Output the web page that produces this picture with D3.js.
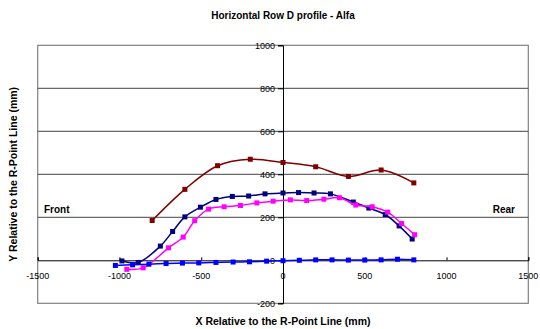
<!DOCTYPE html>
<html>
<head>
<meta charset="utf-8">
<script src="https://cdn.jsdelivr.net/npm/d3@7"></script>
<style>
  body { margin: 0; background: #fff; }
  svg { font-family: "Liberation Sans", Arial, sans-serif; }
</style>
</head>
<body>
<svg id="chart" width="540" height="329"></svg>
<script>
// ------------ DATA -----------------

const xTicks = [-1500, -1000, -500, 0, 500, 1000, 1500];
const yTicks = [-200, 0, 200, 400, 600, 800, 1000];

const redX = [-800, -600, -400, -200, 0, 200, 400, 600, 800];
const redY = [185, 330, 440, 470, 455, 435, 390, 420, 360];

const navyX = [-985, -885, -750, -675, -600, -505, -410, -310, -210, -110, 0, 95, 190, 290, 430, 525, 625, 710, 790];
const navyY = [-3, -10, 66, 134, 202, 247, 283, 297, 299, 309, 313, 315, 313, 309, 271, 243, 213, 160, 99];

const pinkX = [-955, -855, -700, -610, -540, -455, -360, -260, -160, -60, 45, 145, 250, 345, 445, 545, 640, 725, 805];
const pinkY = [-42, -35, 58, 108, 184, 238, 249, 255, 267, 275, 281, 278, 284, 291, 257, 249, 224, 171, 119];

const blueX = [-1025, -920, -820, -715, -615, -515, -410, -305, -205, -100, 0, 100, 200, 300, 400, 500, 600, 700, 800];
const blueY = [-24, -21, -18, -15, -13, -12, -10, -8, -7, -4, -2, 0, 2, 2, 1, 1, 2, 5, 2];

const series = [
  { name: "navy", xs: navyX, ys: navyY, color: "#000080" },
  { name: "pink", xs: pinkX, ys: pinkY, color: "#ff00ff" },
  { name: "blue", xs: blueX, ys: blueY, color: "#0000ff" },
  { name: "red",  xs: redX,  ys: redY,  color: "#800000" },
];

// ------------ SCALES -----------------

const plot = { left: 37.7, right: 528.3, top: 45.3, bottom: 303.3 };

const x = d3.scaleLinear().domain([-1500, 1500]).range([plot.left, plot.right]);
const y = d3.scaleLinear().domain([-200, 1000]).range([plot.bottom, plot.top]);

const svg = d3.select("#chart");

// ------------ FRAME + GRID -----------------

svg.append("rect")
  .attr("x", plot.left).attr("y", plot.top)
  .attr("width", plot.right - plot.left).attr("height", plot.bottom - plot.top)
  .attr("fill", "none").attr("stroke", "#808080").attr("stroke-width", 1.2);

svg.append("g")
  .selectAll("line")
  .data(yTicks.filter(d => d !== -200 && d !== 0 && d !== 1000))
  .join("line")
  .attr("x1", plot.left).attr("x2", plot.right)
  .attr("y1", d => y(d)).attr("y2", d => y(d))
  .attr("stroke", "#444").attr("stroke-width", 1);

// axes cross at 0 / 0
const xAxis = d3.axisTop(x).tickValues(xTicks).tickSize(3).tickFormat("");
svg.append("g")
  .attr("transform", `translate(0,${y(0)})`)
  .call(xAxis)
  .call(g => g.selectAll("path,line").attr("stroke", "#000"));

const yAxis = d3.axisLeft(y).tickValues(yTicks).tickSize(5).tickFormat("");
svg.append("g")
  .attr("transform", `translate(${x(0)},0)`)
  .call(yAxis)
  .call(g => g.selectAll("path,line").attr("stroke", "#000"));

// tick labels
svg.append("g")
  .selectAll("text")
  .data(xTicks)
  .join("text")
  .attr("x", d => x(d)).attr("y", y(0) + 19)
  .attr("text-anchor", "middle")
  .attr("font-size", 9)
  .text(d => d);

svg.append("g")
  .selectAll("text")
  .data(yTicks)
  .join("text")
  .attr("x", x(0) - 8).attr("y", d => y(d) + 3.2)
  .attr("text-anchor", "end")
  .attr("font-size", 9)
  .text(d => d);

// ------------ SERIES -----------------

const line = d3.line().curve(d3.curveCatmullRom.alpha(0.5));

for (const s of series) {
  const pts = s.xs.map((v, i) => [x(v), y(s.ys[i])]);
  svg.append("path")
    .attr("d", line(pts))
    .attr("fill", "none")
    .attr("stroke", s.color)
    .attr("stroke-width", 1.5);
  svg.append("g")
    .selectAll("rect")
    .data(pts)
    .join("rect")
    .attr("x", d => d[0] - 2.5).attr("y", d => d[1] - 2.5)
    .attr("width", 5).attr("height", 5)
    .attr("fill", s.color);
}

// ------------ TEXT -----------------

svg.append("text")
  .attr("x", 283).attr("y", 19)
  .attr("text-anchor", "middle")
  .attr("font-size", 10).attr("font-weight", "bold")
  .text("Horizontal Row D profile - Alfa");

svg.append("text")
  .attr("x", 283).attr("y", 325)
  .attr("text-anchor", "middle")
  .attr("font-size", 10.5).attr("font-weight", "bold")
  .text("X Relative to the R-Point Line (mm)");

svg.append("text")
  .attr("transform", `translate(17,${(plot.top + plot.bottom) / 2}) rotate(-90)`)
  .attr("text-anchor", "middle")
  .attr("font-size", 10.5).attr("font-weight", "bold")
  .text("Y Relative to the R-Point Line (mm)");

svg.append("text")
  .attr("x", 44).attr("y", 213)
  .attr("font-size", 10).attr("font-weight", "bold")
  .text("Front");

svg.append("text")
  .attr("x", 515).attr("y", 213)
  .attr("text-anchor", "end")
  .attr("font-size", 10).attr("font-weight", "bold")
  .text("Rear");
</script>
</body>
</html>
